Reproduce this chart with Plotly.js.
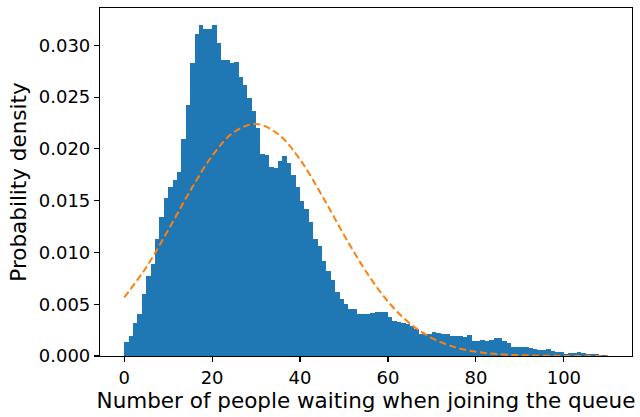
<!DOCTYPE html>
<html>
<head>
<meta charset="utf-8">
<script src="https://cdn.plot.ly/plotly-3.0.1.min.js"></script>
<style>html,body{margin:0;padding:0;background:#fff;}#chart{width:640px;height:417px;}</style>
</head>
<body>
<div id="chart"></div>
<script>
// Histogram: bins of width 1 starting at 0 (bin k covers [k, k+1))
const binWidth = 1;
const densities = [
  0.00132, 0.00193, 0.00315, 0.00405, 0.00598, 0.00772, 0.00888, 0.01129, 0.01345, 0.01528,
  0.01631, 0.01702, 0.01779, 0.02095, 0.02426, 0.02828, 0.03108, 0.03195, 0.03156, 0.03156,
  0.03195, 0.03024, 0.02857, 0.02857, 0.02831, 0.02838, 0.02693, 0.02616, 0.02490, 0.02365,
  0.02204, 0.01950, 0.01937, 0.01827, 0.01815, 0.01885, 0.01931, 0.01863, 0.01747, 0.01631,
  0.01497, 0.01419, 0.01296, 0.01129, 0.01062, 0.00917, 0.00820, 0.00734, 0.00618, 0.00550,
  0.00502, 0.00454, 0.00454, 0.00405, 0.00405, 0.00405, 0.00415, 0.00425, 0.00425, 0.00425,
  0.00376, 0.00338, 0.00328, 0.00319, 0.00309, 0.00290, 0.00261, 0.00212, 0.00212, 0.00212,
  0.00232, 0.00222, 0.00212, 0.00212, 0.00193, 0.00193, 0.00193, 0.00183, 0.00203, 0.00145,
  0.00145, 0.00154, 0.00145, 0.00154, 0.00174, 0.00174, 0.00145, 0.00125, 0.00087, 0.00087,
  0.00087, 0.00087, 0.00077, 0.00068, 0.00058, 0.00058, 0.00068, 0.00048, 0.00039, 0.00039,
  0.00019, 0.00029, 0.00029, 0.00039, 0.00029, 0.00019, 0.00019, 0.00019, 0.00010, 0.00010
];

// Fitted normal curve (dashed)
const curveX = [0, 5, 10, 15, 20, 25, 30, 35, 40, 45, 50, 55, 60, 65, 70, 75, 80, 85, 90, 95, 100, 105, 110];
const curveY = [0.00565, 0.00855, 0.01215, 0.01593, 0.01932, 0.02163, 0.02240, 0.02143, 0.01896, 0.01549,
                0.01169, 0.00816, 0.00526, 0.00313, 0.00173, 0.00088, 0.00041, 0.00018, 0.00007, 0.00003,
                0.00001, 0.000004, 0.000001];

const xTicks = [0, 20, 40, 60, 80, 100];
const yTicks = [0.000, 0.005, 0.010, 0.015, 0.020, 0.025, 0.030];
const xLabel = 'Number of people waiting when joining the queue';
const yLabel = 'Probability density';

const binCenters = densities.map((_, i) => i * binWidth + binWidth / 2);

const traces = [
  {
    type: 'bar',
    x: binCenters,
    y: densities,
    width: binWidth,
    marker: {color: '#1f77b4', line: {width: 0}},
    hoverinfo: 'x+y'
  },
  {
    type: 'scatter',
    mode: 'lines',
    x: curveX,
    y: curveY,
    line: {color: '#ff7f0e', width: 2, dash: '7px,3.5px', shape: 'spline'}
  }
];

const font = 'DejaVu Sans, sans-serif';
const layout = {
  width: 640,
  height: 417,
  margin: {l: 100, r: 8, t: 8, b: 61, pad: 0},
  paper_bgcolor: '#fff',
  plot_bgcolor: '#fff',
  showlegend: false,
  bargap: 0,
  font: {family: font, color: '#000', size: 18},
  xaxis: {
    range: [-5.5, 115.5],
    tickvals: xTicks,
    ticktext: xTicks.map(String),
    ticks: 'outside', ticklen: 5, tickwidth: 1.1, tickcolor: '#000',
    showline: true, mirror: true, linecolor: '#000', linewidth: 1.1,
    showgrid: false, zeroline: false,
    tickfont: {family: font, size: 18, color: '#000'},
    title: {text: xLabel, font: {family: font, size: 21.5, color: '#000'}, standoff: 6}
  },
  yaxis: {
    range: [0, 0.0336],
    tickvals: yTicks,
    ticktext: yTicks.map(v => v.toFixed(3)),
    ticks: 'outside', ticklen: 5, tickwidth: 1.1, tickcolor: '#000',
    showline: true, mirror: true, linecolor: '#000', linewidth: 1.1,
    showgrid: false, zeroline: false,
    tickfont: {family: font, size: 18, color: '#000'},
    title: {text: yLabel, font: {family: font, size: 21.5, color: '#000'}, standoff: 6}
  }
};

Plotly.newPlot('chart', traces, layout, {displayModeBar: false, staticPlot: true});
</script>
</body>
</html>
